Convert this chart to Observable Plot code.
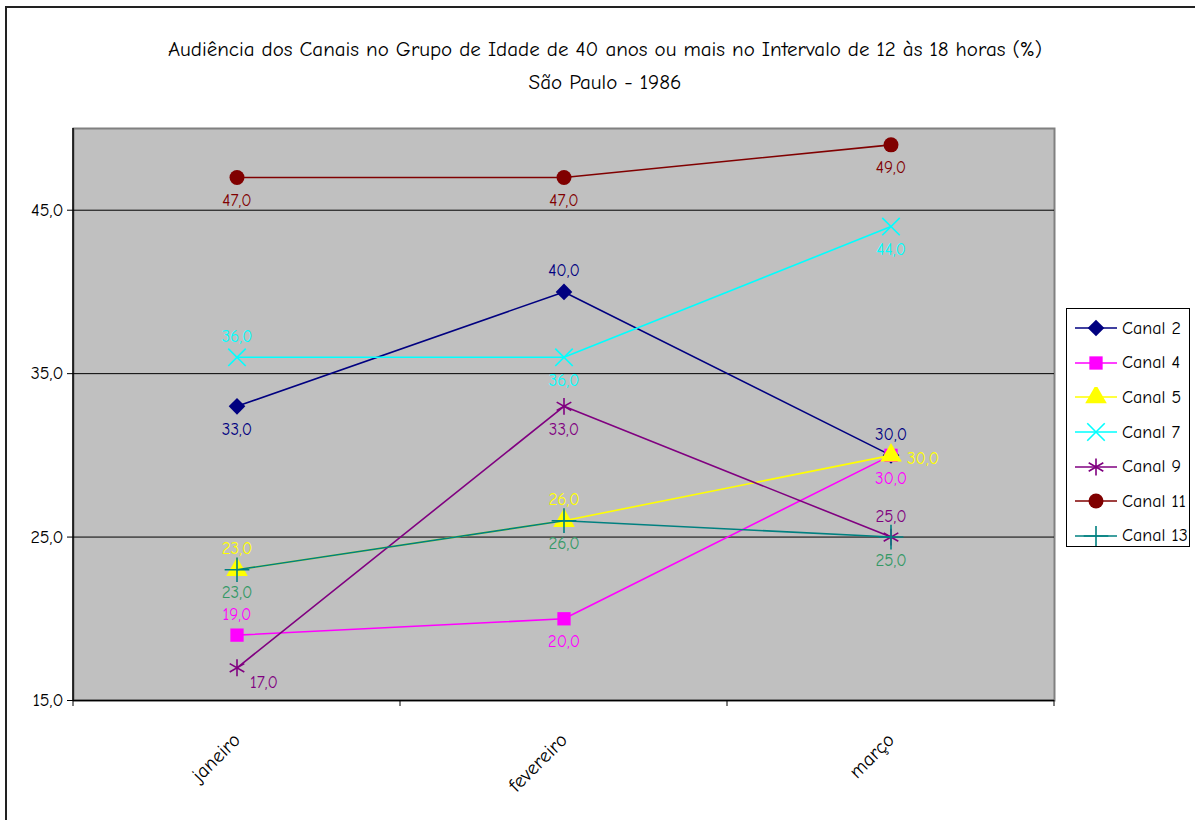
<!DOCTYPE html>
<html>
<head>
<meta charset="utf-8">
<script src="https://cdn.jsdelivr.net/npm/d3@7"></script>
<script src="https://cdn.jsdelivr.net/npm/@observablehq/plot@0.6"></script>
<style>
  html, body { margin: 0; padding: 0; background: #fff; }
  body { font-family: "Comic Sans MS", "Comic Neue", "Open Sans", sans-serif; }
  #wrap { position: relative; width: 1195px; height: 820px; overflow: hidden; }
  #border { position: absolute; left: 5px; top: 6px; right: -10px; bottom: -10px; border-left: 2px solid #222; border-top: 2px solid #222; }
  #title { position: absolute; left: 0; top: 33px; width: 1210px; text-align: center; font-size: 21px; line-height: 33px; color: #000; }
  #chart { position: absolute; left: 0; top: 0; }
  #legend { position: absolute; left: 1066px; top: 308px; width: 124px; height: 239px; background: #fff; border: 1px solid #000; box-sizing: border-box; padding-top: 2px; }
  .lrow { height: 34.6px; display: flex; align-items: center; font-size: 18px; }
  .lrow svg { margin-left: 8px; margin-right: 5px; }
</style>
</head>
<body>
<div id="wrap">
  <div id="border"></div>
  <div id="title">Audiência dos Canais no Grupo de Idade de 40 anos ou mais no Intervalo de 12 às 18 horas (%)<br>São Paulo - 1986</div>
  <div id="chart"></div>
  <div id="legend"></div>
</div>
<script>
// ---- Data ----
const months = ["janeiro", "fevereiro", "março"];
const series = ["Canal 2", "Canal 4", "Canal 5", "Canal 7", "Canal 9", "Canal 11", "Canal 13"];
const canal2  = [33, 40, 30];
const canal4  = [19, 20, 30];
const canal5  = [23, 26, 30];
const canal7  = [36, 36, 44];
const canal9  = [17, 33, 25];
const canal11 = [47, 47, 49];
const canal13 = [23, 26, 25];
const yTicks = [15, 25, 35, 45];
const gridValues = [25, 35, 45];

// ---- Styles ----
const lineColors  = ["#000080", "#FF00FF", "#FFFF00", "#00FFFF", "#800080", "#800000", "#008080"];
const labelColors = ["#000080", "#FF00FF", "#FFFF00", "#00FFFF", "#800080", "#800000", "#339966"];
const symbols     = ["diamond2", "square", "triangle", "times", "asterisk", "circle", "plus"];
const filled      = [true, true, true, false, false, true, false];
const symbolR     = [7.5, 7.5, 8, 8, 8, 7.5, 8];
const labelPos = [
  ["below", "above", "above"],
  ["above", "below", "below"],
  ["above", "above", "right"],
  ["above", "below", "below"],
  ["belowright", "below", "above"],
  ["below", "below", "below"],
  ["below", "below", "below"]
];
const posOffset = {
  above: {dx: 0, dy: -21},
  below: {dx: 0, dy: 23},
  right: {dx: 32, dy: 3},
  belowright: {dx: 27, dy: 15}
};

const valuesBySeries = [canal2, canal4, canal5, canal7, canal9, canal11, canal13];
const fmt = v => v.toFixed(1).replace(".", ",");
const FONT = "'Comic Sans MS', 'Comic Neue', 'Open Sans', sans-serif";

const rows = [];
series.forEach((s, i) => {
  valuesBySeries[i].forEach((v, j) => {
    rows.push({serie: s, si: i, month: months[j], value: v, pos: labelPos[i][j]});
  });
});

const marks = [
  Plot.frame({fill: "#C0C0C0", stroke: "#808080", strokeWidth: 2}),
  Plot.ruleY(gridValues, {stroke: "#000", strokeWidth: 1}),
  Plot.ruleY([15], {stroke: "#000", strokeWidth: 1.5}),
  Plot.axisY({ticks: yTicks, tickFormat: fmt, tickSize: 6, tickPadding: 4, label: null, fontSize: 18, stroke: "#000"}),
  Plot.axisX({tickSize: 0, tickPadding: 36, tickRotate: -45, label: null, fontSize: 20}),
  // category boundary ticks on x axis and left axis line
  function boundaryTicks(index, scales, values, dims) {
    const x = scales.x;
    const xs = months.map(m => x(m)).concat([dims.width - dims.marginRight]);
    const yb = dims.height - dims.marginBottom;
    const g = d3.create("svg:g");
    g.append("line").attr("x1", dims.marginLeft).attr("x2", dims.marginLeft)
      .attr("y1", dims.marginTop).attr("y2", yb).attr("stroke", "#000").attr("stroke-width", 1.5);
    xs.forEach(px => {
      g.append("line").attr("x1", px).attr("x2", px).attr("y1", yb).attr("y2", yb + 6)
        .attr("stroke", "#000").attr("stroke-width", 1);
    });
    return g.node();
  }
];

series.forEach((s, i) => {
  const data = rows.filter(r => r.si === i);
  marks.push(Plot.line(data, {x: "month", y: "value", stroke: lineColors[i], strokeWidth: 1.6}));
  marks.push(Plot.dot(data, {
    x: "month", y: "value", symbol: () => symbols[i], r: symbolR[i],
    fill: filled[i] ? lineColors[i] : "none",
    stroke: filled[i] ? "none" : lineColors[i],
    strokeWidth: filled[i] ? 0 : 1.6
  }));
});

Object.entries(posOffset).forEach(([pos, off]) => {
  series.forEach((s, i) => {
    const data = rows.filter(r => r.si === i && r.pos === pos);
    if (data.length) {
      marks.push(Plot.text(data, {
        x: "month", y: "value", text: d => fmt(d.value),
        dx: off.dx, dy: off.dy, fill: labelColors[i], fontSize: 17
      }));
    }
  });
});

const chart = Plot.plot({
  width: 1195,
  height: 820,
  marginLeft: 73,
  marginRight: 141,
  marginTop: 128,
  marginBottom: 120,
  style: {background: "transparent", fontFamily: FONT, fontSize: "18px", color: "#000"},
  x: {type: "band", domain: months, padding: 0, axis: null},
  y: {domain: [15, 50], axis: null},
  marks
});
document.getElementById("chart").appendChild(chart);

// ---- Legend ----
const legend = d3.select("#legend");
const symMap = {diamond2: d3.symbolDiamond2, square: d3.symbolSquare, triangle: d3.symbolTriangle,
  times: d3.symbolTimes, asterisk: d3.symbolAsterisk, circle: d3.symbolCircle, plus: d3.symbolPlus};
series.forEach((s, i) => {
  const row = legend.append("div").attr("class", "lrow");
  const svg = row.append("svg").attr("width", 42).attr("height", 20);
  svg.append("line").attr("x1", 0).attr("x2", 42).attr("y1", 10).attr("y2", 10)
    .attr("stroke", lineColors[i]).attr("stroke-width", 1.6);
  const size = Math.PI * symbolR[i] * symbolR[i];
  svg.append("path").attr("transform", "translate(21,10)")
    .attr("d", d3.symbol(symMap[symbols[i]], size)())
    .attr("fill", filled[i] ? lineColors[i] : "none")
    .attr("stroke", filled[i] ? "none" : lineColors[i])
    .attr("stroke-width", 1.6);
  row.append("span").text(s);
});
</script>
</body>
</html>
